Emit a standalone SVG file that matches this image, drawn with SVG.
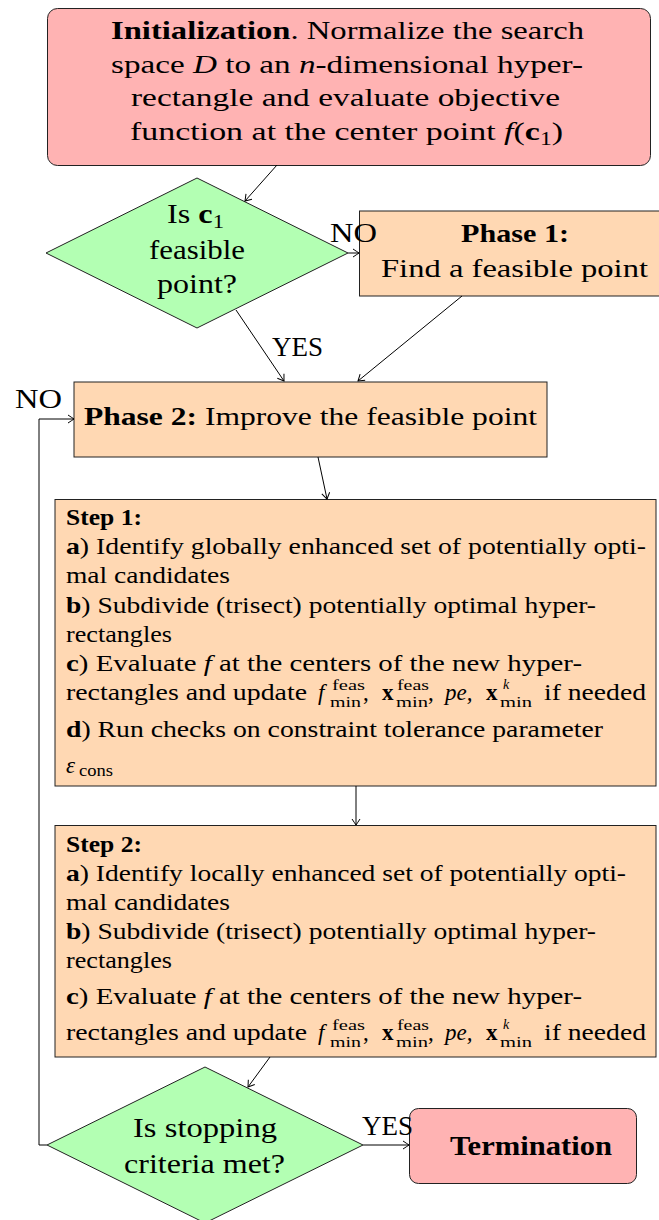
<svg xmlns="http://www.w3.org/2000/svg" width="659" height="1220" viewBox="0 0 659 1220">
<defs>
<style>
text{font-family:"Liberation Serif","DejaVu Serif",serif;fill:#000}
.t25{font-size:26px}
.t26{font-size:27px}
.t22{font-size:23px}
.sm{font-size:16px}
.ss{font-size:14px}
.b{font-weight:bold}
.i{font-style:italic}
.mid{text-anchor:middle}
.red{fill:#ffb3b3;stroke:#222;stroke-width:1}
.org{fill:#ffd8b3;stroke:#222;stroke-width:1}
.grn{fill:#b3ffb3;stroke:#222;stroke-width:1}
.cn{fill:none;stroke:#000;stroke-width:1;marker-end:url(#arr)}
</style>
<marker id="arr" viewBox="-7 -5 8 10" refX="0" refY="0" markerWidth="8" markerHeight="10" markerUnits="userSpaceOnUse" orient="auto">
<path d="M-6,-4 Q-1.5,-1 0,0 Q-1.5,1 -6,4" fill="none" stroke="#000" stroke-width="1"/>
</marker>
</defs>

<g id="init">
<rect class="red" x="47.5" y="8.5" width="603" height="157" rx="10"/>
<text class="t25 mid" x="347.5" y="39" textLength="473" lengthAdjust="spacingAndGlyphs"><tspan class="b">Initialization</tspan>. Normalize the search</text>
<text class="t25 mid" x="347" y="72.5" textLength="472" lengthAdjust="spacingAndGlyphs">space <tspan class="i">D</tspan> to an <tspan class="i">n</tspan>-dimensional hyper-</text>
<text class="t25 mid" x="345.5" y="106" textLength="429" lengthAdjust="spacingAndGlyphs">rectangle and evaluate objective</text>
<text class="t25 mid" x="346.5" y="139.5" textLength="433" lengthAdjust="spacingAndGlyphs">function at the center point <tspan class="i">f</tspan>(<tspan class="b">c</tspan><tspan dy="5" font-size="18">1</tspan><tspan dy="-5">)</tspan></text>
</g>

<g id="feasible-check">
<polygon class="grn" points="197,178 348,253 197,328 46,253"/>
<text class="t26 mid" x="195.5" y="223" textLength="57" lengthAdjust="spacingAndGlyphs">Is <tspan class="b">c</tspan><tspan dy="5" font-size="19">1</tspan></text>
<text class="t26 mid" x="197" y="259" textLength="96" lengthAdjust="spacingAndGlyphs">feasible</text>
<text class="t26 mid" x="197" y="293" textLength="80" lengthAdjust="spacingAndGlyphs">point?</text>
</g>

<g id="phase1">
<rect class="org" x="359.5" y="211" width="310" height="85"/>
<text class="t25 mid b" x="515" y="242" textLength="108" lengthAdjust="spacingAndGlyphs">Phase 1:</text>
<text class="t25 mid" x="514.5" y="277" textLength="267" lengthAdjust="spacingAndGlyphs">Find a feasible point</text>
</g>

<g id="phase2">
<rect class="org" x="74" y="382" width="473" height="75"/>
<text class="t25" x="84" y="425" textLength="453" lengthAdjust="spacingAndGlyphs"><tspan class="b">Phase 2:</tspan> Improve the feasible point</text>
</g>

<g id="step1">
<rect class="org" x="55" y="499.5" width="601" height="286.5"/>
<text class="t22 b" x="66" y="525" textLength="76" lengthAdjust="spacingAndGlyphs">Step 1:</text>
<text class="t22" x="66" y="554" textLength="580" lengthAdjust="spacingAndGlyphs"><tspan class="b">a</tspan>) Identify globally enhanced set of potentially opti-</text>
<text class="t22" x="66" y="582.5" textLength="164" lengthAdjust="spacingAndGlyphs">mal candidates</text>
<text class="t22" x="66" y="612.5" textLength="530" lengthAdjust="spacingAndGlyphs"><tspan class="b">b</tspan>) Subdivide (trisect) potentially optimal hyper-</text>
<text class="t22" x="66" y="641.5" textLength="106" lengthAdjust="spacingAndGlyphs">rectangles</text>
<text class="t22" x="66" y="670.5" textLength="516" lengthAdjust="spacingAndGlyphs"><tspan class="b">c</tspan>) Evaluate <tspan class="i">f</tspan> at the centers of the new hyper-</text>
<text class="t22" x="66" y="700" textLength="241" lengthAdjust="spacingAndGlyphs">rectangles and update</text>
<text class="t22 i" x="318" y="700">f</text>
<text class="ss" x="332" y="690" textLength="33" lengthAdjust="spacingAndGlyphs">feas</text>
<text class="ss" x="330" y="707" textLength="31" lengthAdjust="spacingAndGlyphs">min</text>
<text class="t22" x="363" y="700">,</text>
<text class="t22 b" x="382" y="700">x</text>
<text class="ss" x="397" y="690" textLength="32" lengthAdjust="spacingAndGlyphs">feas</text>
<text class="ss" x="396" y="707" textLength="32" lengthAdjust="spacingAndGlyphs">min</text>
<text class="t22" x="428" y="700">,</text>
<text class="t22 i" x="445" y="700">pe,</text>
<text class="t22 b" x="486" y="700">x</text>
<text class="ss i" x="503" y="689">k</text>
<text class="ss" x="500" y="707" textLength="32" lengthAdjust="spacingAndGlyphs">min</text>
<text class="t22" x="544" y="700" textLength="102" lengthAdjust="spacingAndGlyphs">if needed</text>
<text class="t22" x="66" y="737" textLength="537" lengthAdjust="spacingAndGlyphs"><tspan class="b">d</tspan>) Run checks on constraint tolerance parameter</text>
<text class="t22 i" x="66" y="773">ε</text>
<text class="sm" x="79" y="776" textLength="34" lengthAdjust="spacingAndGlyphs">cons</text>
</g>

<g id="step2">
<rect class="org" x="55" y="825.5" width="601" height="231.5"/>
<text class="t22 b" x="66" y="851.5" textLength="76" lengthAdjust="spacingAndGlyphs">Step 2:</text>
<text class="t22" x="66" y="880.5" textLength="560" lengthAdjust="spacingAndGlyphs"><tspan class="b">a</tspan>) Identify locally enhanced set of potentially opti-</text>
<text class="t22" x="66" y="909.5" textLength="164" lengthAdjust="spacingAndGlyphs">mal candidates</text>
<text class="t22" x="66" y="938.5" textLength="530" lengthAdjust="spacingAndGlyphs"><tspan class="b">b</tspan>) Subdivide (trisect) potentially optimal hyper-</text>
<text class="t22" x="66" y="967.5" textLength="106" lengthAdjust="spacingAndGlyphs">rectangles</text>
<text class="t22" x="66" y="1003.5" textLength="516" lengthAdjust="spacingAndGlyphs"><tspan class="b">c</tspan>) Evaluate <tspan class="i">f</tspan> at the centers of the new hyper-</text>
<text class="t22" x="66" y="1040" textLength="241" lengthAdjust="spacingAndGlyphs">rectangles and update</text>
<text class="t22 i" x="318" y="1040">f</text>
<text class="ss" x="332" y="1030" textLength="33" lengthAdjust="spacingAndGlyphs">feas</text>
<text class="ss" x="330" y="1047" textLength="31" lengthAdjust="spacingAndGlyphs">min</text>
<text class="t22" x="363" y="1040">,</text>
<text class="t22 b" x="382" y="1040">x</text>
<text class="ss" x="397" y="1030" textLength="32" lengthAdjust="spacingAndGlyphs">feas</text>
<text class="ss" x="396" y="1047" textLength="32" lengthAdjust="spacingAndGlyphs">min</text>
<text class="t22" x="428" y="1040">,</text>
<text class="t22 i" x="445" y="1040">pe,</text>
<text class="t22 b" x="486" y="1040">x</text>
<text class="ss i" x="503" y="1029">k</text>
<text class="ss" x="500" y="1047" textLength="32" lengthAdjust="spacingAndGlyphs">min</text>
<text class="t22" x="544" y="1040" textLength="102" lengthAdjust="spacingAndGlyphs">if needed</text>
</g>

<g id="stop-check">
<polygon class="grn" points="205,1067 363,1145 205,1223 47,1145"/>
<text class="t26 mid" x="205" y="1137" textLength="144" lengthAdjust="spacingAndGlyphs">Is stopping</text>
<text class="t26 mid" x="204.5" y="1173" textLength="161" lengthAdjust="spacingAndGlyphs">criteria met?</text>
</g>

<g id="termination">
<rect class="red" x="409.5" y="1108.5" width="227" height="75" rx="9"/>
<text class="t26 mid b" x="531" y="1155" textLength="162" lengthAdjust="spacingAndGlyphs">Termination</text>
</g>

<g id="connectors">
<line class="cn" x1="277" y1="165" x2="245" y2="201"/>
<line class="cn" x1="348" y1="253" x2="359" y2="253"/>
<line class="cn" x1="236" y1="310" x2="284" y2="381"/>
<line class="cn" x1="462" y1="296" x2="358" y2="381"/>
<line class="cn" x1="318" y1="457" x2="327" y2="499"/>
<line class="cn" x1="356" y1="786" x2="356" y2="825"/>
<line class="cn" x1="270" y1="1057" x2="248" y2="1087"/>
<line class="cn" x1="363" y1="1145" x2="409" y2="1145"/>
<polyline class="cn" points="47,1145 39,1145 39,419 74,419"/>
<text class="t26" x="330" y="242" textLength="47" lengthAdjust="spacingAndGlyphs">NO</text>
<text class="t26" x="272" y="356" textLength="51" lengthAdjust="spacingAndGlyphs">YES</text>
<text class="t26" x="15" y="408" textLength="47" lengthAdjust="spacingAndGlyphs">NO</text>
<text class="t26" x="362" y="1135" textLength="51" lengthAdjust="spacingAndGlyphs">YES</text>
</g>
</svg>
